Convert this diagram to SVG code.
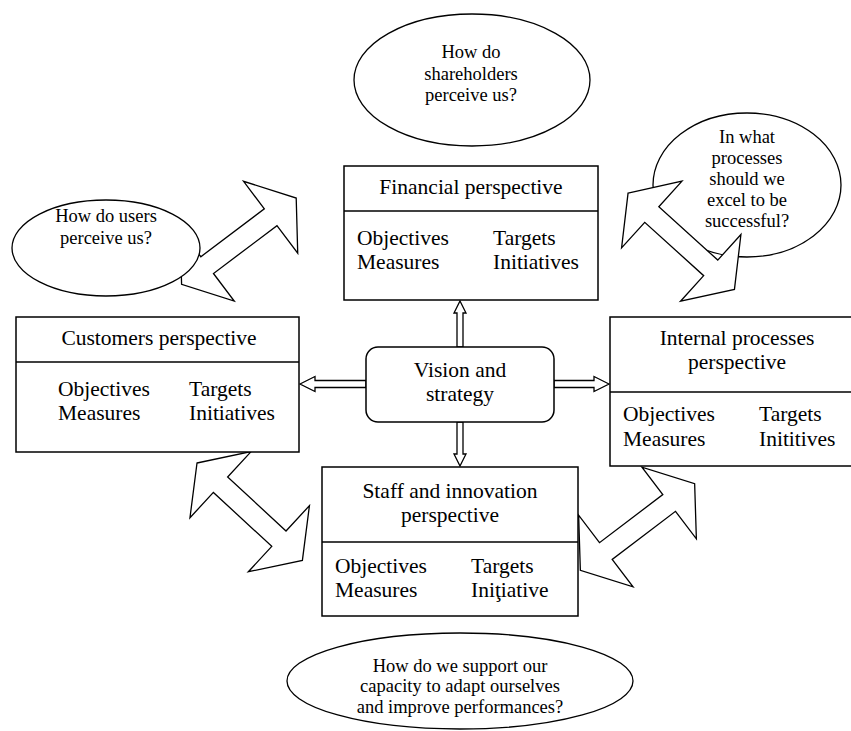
<svg xmlns="http://www.w3.org/2000/svg" width="851" height="731" viewBox="0 0 851 731">
<style>
.box{fill:#fff;stroke:#000;stroke-width:1.5}
.ell{fill:#fff;stroke:#000;stroke-width:1.3}
.arr{fill:#fff;stroke:#000;stroke-width:1.3;stroke-linejoin:miter}
.ln{stroke:#000;stroke-width:1.5}
text{font-family:"Liberation Serif","Times New Roman",serif;fill:#000}
.t{font-size:21.5px}
.q{font-size:18.5px}
.c{text-anchor:middle}
</style>
<defs>
<polygon id="bigArrow" points="-71.75,0 -39.75,-45 -39.75,-10.5 39.75,-10.5 39.75,-45 71.75,0 39.75,45 39.75,10.5 -39.75,10.5 -39.75,45"/>
</defs>
<rect width="851" height="731" fill="#fff"/>

<g id="q-processes">
<ellipse class="ell" cx="747" cy="185" rx="94" ry="72"/>
<text class="q c" x="747" y="143">In what</text>
<text class="q c" x="747" y="164">processes</text>
<text class="q c" x="747" y="185">should we</text>
<text class="q c" x="747" y="206">excel to be</text>
<text class="q c" x="747" y="227">successful?</text>
</g>

<g id="connectors">
<use href="#bigArrow" class="arr" transform="translate(238.9,241.2) rotate(-37)"/>
<use href="#bigArrow" class="arr" transform="translate(681.25,241.2) rotate(42.15)"/>
<use href="#bigArrow" class="arr" transform="translate(249.7,511.7) rotate(42.75)"/>
<use href="#bigArrow" class="arr" transform="translate(637.5,527) rotate(-37.2)"/>
<polygon class="arr" points="460,301 466,313 463,313 463,347 457,347 457,313 454,313"/>
<polygon class="arr" points="460,466 466,454 463,454 463,422 457,422 457,454 454,454"/>
<polygon class="arr" points="300,384 315,376.5 315,380.5 366,380.5 366,387.5 315,387.5 315,391.5"/>
<polygon class="arr" points="609,384 594,376.5 594,380.5 554,380.5 554,387.5 594,387.5 594,391.5"/>
</g>

<g id="q-shareholders">
<ellipse class="ell" cx="472" cy="80" rx="118" ry="66"/>
<text class="q c" x="471" y="58">How do</text>
<text class="q c" x="471" y="80">shareholders</text>
<text class="q c" x="471" y="101">perceive us?</text>
</g>

<g id="q-users">
<ellipse class="ell" cx="106" cy="248" rx="94" ry="48"/>
<text class="q c" x="106" y="222">How do users</text>
<text class="q c" x="106" y="244">perceive us?</text>
</g>

<g id="q-staff">
<ellipse class="ell" cx="460" cy="681" rx="173" ry="48"/>
<text class="q c" x="460" y="672">How do we support our</text>
<text class="q c" x="460" y="692">capacity to adapt ourselves</text>
<text class="q c" x="460" y="713">and improve performances?</text>
</g>

<g id="financial">
<rect class="box" x="344" y="166" width="254" height="134"/>
<line class="ln" x1="344" y1="211" x2="598" y2="211"/>
<text class="t c" x="471" y="194">Financial perspective</text>
<text class="t" x="357" y="245">Objectives</text>
<text class="t" x="357" y="269">Measures</text>
<text class="t" x="493" y="245">Targets</text>
<text class="t" x="493" y="269">Initiatives</text>
</g>

<g id="customers">
<rect class="box" x="16" y="317" width="283" height="135"/>
<line class="ln" x1="16" y1="362" x2="299" y2="362"/>
<text class="t c" x="159" y="345">Customers perspective</text>
<text class="t" x="58" y="396">Objectives</text>
<text class="t" x="58" y="420">Measures</text>
<text class="t" x="189" y="396">Targets</text>
<text class="t" x="189" y="420">Initiatives</text>
</g>

<g id="internal">
<rect class="box" x="610" y="317" width="254" height="149"/>
<line class="ln" x1="610" y1="392" x2="864" y2="392"/>
<text class="t c" x="737" y="345">Internal processes</text>
<text class="t c" x="737" y="369">perspective</text>
<text class="t" x="623" y="421">Objectives</text>
<text class="t" x="623" y="446">Measures</text>
<text class="t" x="759" y="421">Targets</text>
<text class="t" x="759" y="446">Inititives</text>
</g>

<g id="staff">
<rect class="box" x="322" y="467" width="256" height="149"/>
<line class="ln" x1="322" y1="542" x2="578" y2="542"/>
<text class="t c" x="450" y="498">Staff and innovation</text>
<text class="t c" x="450" y="522">perspective</text>
<text class="t" x="335" y="573">Objectives</text>
<text class="t" x="335" y="597">Measures</text>
<text class="t" x="471" y="573">Targets</text>
<text class="t" x="471" y="597">Iniţiative</text>
</g>

<g id="vision">
<rect class="box" x="366" y="347" width="188" height="75" rx="12"/>
<text class="t c" x="460" y="377">Vision and</text>
<text class="t c" x="460" y="401">strategy</text>
</g>
</svg>
